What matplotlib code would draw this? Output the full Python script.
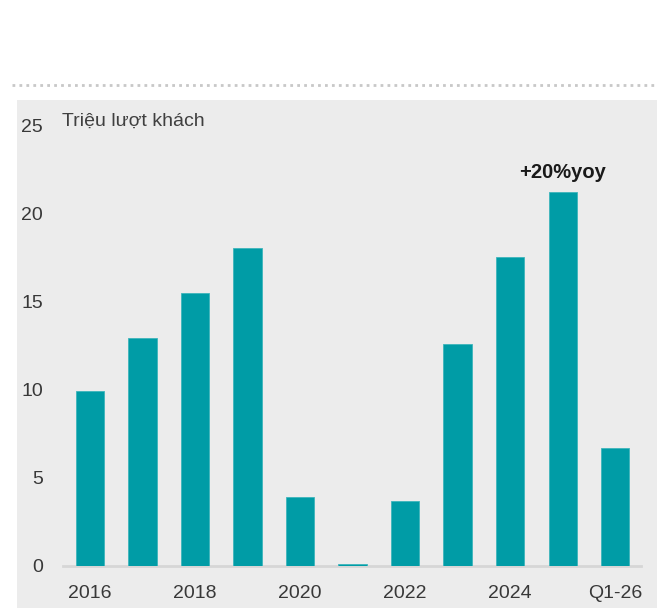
import matplotlib
matplotlib.use("Agg")
import matplotlib.pyplot as plt
from matplotlib.lines import Line2D

categories = ["2016", "2017", "2018", "2019", "2020", "2021", "2022", "2023", "2024", "2025", "Q1-26"]
values = [9.9, 12.9, 15.5, 18.0, 3.9, 0.1, 3.7, 12.6, 17.5, 21.2, 6.7]
tick_labels = ["2016", "", "2018", "", "2020", "", "2022", "", "2024", "", "Q1-26"]
yticks = [0, 5, 10, 15, 20, 25]
unit_label = "Triệu lượt khách"
annotation = "+20%yoy"

plt.rcParams['font.family'] = ['Liberation Sans', 'DejaVu Sans']

W, H = 657, 608
fig = plt.figure(figsize=(W / 100, H / 100), dpi=100)
fig.patch.set_facecolor("white")

# gray panel as a background axes
bg = fig.add_axes([17 / W, 0, 1 - 17 / W, (H - 100) / H], zorder=-5)
bg.set_facecolor("#ECECEC")
bg.set_xticks([])
bg.set_yticks([])
for s in bg.spines.values():
    s.set_visible(False)

# dotted separator
fig.lines.append(Line2D([12 / W, 1], [1 - 85 / H, 1 - 85 / H], transform=fig.transFigure,
                        color="#C8C8C8", linestyle=(0, (1, 1.5)), linewidth=2))

left, right, top, bottom = 63, 641, 125, 566
ax = fig.add_axes([left / W, 1 - bottom / H, (right - left) / W, (bottom - top) / H], zorder=1)
ax.set_facecolor("none")

x = list(range(len(categories)))
ax.bar(x, values, width=0.54, color="#009CA6", edgecolor="#3DB5BC", linewidth=0.6, zorder=3)

ax.set_xlim(-0.51, len(categories) - 0.51)
ax.set_ylim(0, 25)
ax.set_xticks(x)
ax.set_xticklabels(tick_labels)
ax.set_yticks(yticks)
for s in ["top", "right", "left"]:
    ax.spines[s].set_visible(False)
ax.spines["bottom"].set_color("#D6D6D6")
ax.spines["bottom"].set_linewidth(2)
ax.tick_params(axis="both", length=0, labelsize=14, labelcolor="#383838")
ax.tick_params(axis="y", pad=14.4)
ax.tick_params(axis="x", pad=13.5)

ax.text(-0.53, 25.2, unit_label, fontsize=14, color="#404040", ha="left", va="center")
ax.text(9, 22.3, annotation, fontsize=14.5, fontweight="bold", color="#1A1A1A",
        ha="center", va="center")

fig.savefig("out.png", dpi=100)
